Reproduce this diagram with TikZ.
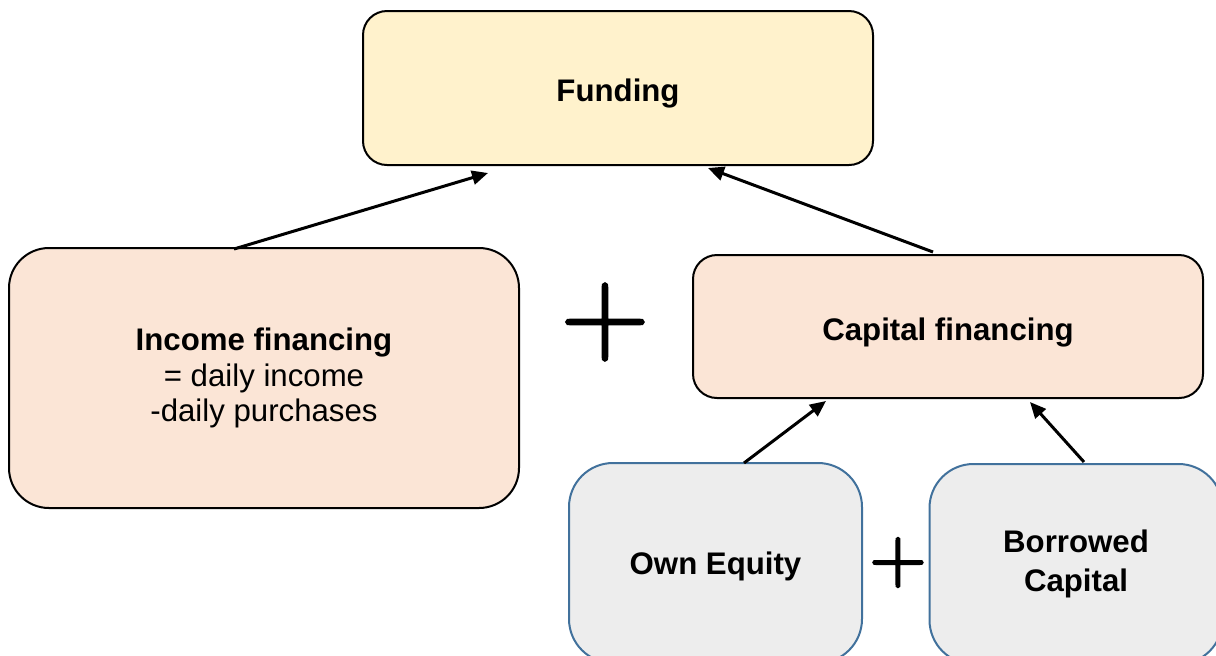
\documentclass[tikz,border=0pt]{standalone}
\usepackage{fontspec}
\setmainfont{Liberation Sans}
\newfontfamily\bigplusfont[FakeBold=1.9]{Latin Modern Roman}
\newfontfamily\smallplusfont[FakeBold=2.9]{Latin Modern Roman}
\usetikzlibrary{calc,arrows.meta}
\definecolor{fundfill}{HTML}{FFF2CC}
\definecolor{peachfill}{HTML}{FBE5D6}
\definecolor{greyfill}{HTML}{EDEDED}
\definecolor{blueline}{HTML}{41719C}

\tikzset{
    box/.style={draw=black, line width=1pt, rounded corners=12pt, align=center, inner sep=0pt,
        font=\fontsize{15.6}{17.8}\selectfont},
    oneline/.style={text height=#1, text depth=0pt},
    partbox/.style={box, draw=blueline, fill=greyfill, rounded corners=22pt,
        minimum width=146.5pt, minimum height=100pt, font=\fontsize{15.6}{19.2}\selectfont},
    arr/.style={line width=1.5pt, -{Triangle[length=8pt,width=7pt]}},
    plussign/.style={inner sep=0pt, text=black}
}

\begin{document}
\begin{tikzpicture}[x=0.5pt,y=-0.5pt]

                    \useasboundingbox (0,0) rectangle (1216,655);

                    \node[box, oneline=13.7pt, fill=fundfill, minimum width=255pt, minimum height=77pt] (fund) at (618,88) {\textbf{Funding}};
                    \node[box, fill=peachfill, rounded corners=20pt, minimum width=255pt, minimum height=130pt] (income) at (264,378)
                        {\textbf{Income financing}\\= daily income\\-daily purchases};
                    \node[box, oneline=14pt, fill=peachfill, minimum width=255pt, minimum height=71.5pt] (capital) at (948,326.5) {\textbf{Capital financing}};

                    \node[partbox, oneline=11pt] (own) at (715.5,563) {\textbf{Own Equity}};
                    \node[partbox] (borrow) at (1076,564) {\textbf{Borrowed}\\\textbf{Capital}};

                    \node[plussign, font=\bigplusfont\fontsize{61.5}{61.5}\selectfont] (bigplus) at (605,322) {+};
                    \node[plussign, font=\smallplusfont\fontsize{39}{39}\selectfont] (smallplus) at (898,562.5) {+};

                    \draw[arr] ($(income.north)+(-30,2)$) -- ($(fund.south)+(-130,7)$);
                    \draw[arr] ($(capital.north)+(-15,-2)$) -- ($(fund.south)+(90,2)$);
                    \draw[arr] ($(own.north)+(28.5,1)$) -- ($(capital.south)+(-122,2)$);
                    \draw[arr] ($(borrow.north)+(8,-1)$) -- ($(capital.south)+(82,3)$);

\end{tikzpicture}
\end{document}
